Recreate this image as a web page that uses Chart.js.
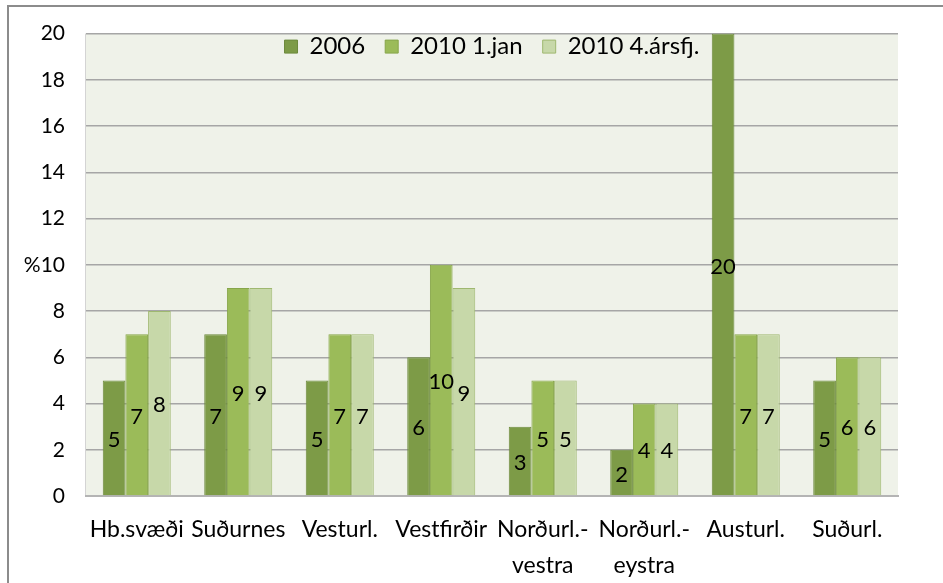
<!DOCTYPE html>
<html>
<head>
<meta charset="utf-8">
<script src="https://cdn.jsdelivr.net/npm/chart.js@4/dist/chart.umd.min.js"></script>
<style>
  html, body { margin: 0; padding: 0; background: #fff; }
  #wrap { position: relative; width: 943px; height: 583px; overflow: hidden; }
  #frame { position: absolute; left: 7px; top: 5px; width: 960px; height: 600px; border-left: 2px solid #8c8c8c; border-top: 2px solid #8c8c8c; pointer-events: none; }
</style>
</head>
<body>
<div id="wrap">
  <canvas id="chart" width="943" height="583"></canvas>
  <div id="frame"></div>
</div>
<script>
const regions = ['Hb.svæði', 'Suðurnes', 'Vesturl.', 'Vestfirðir', ['Norðurl.-', 'vestra'], ['Norðurl.-', 'eystra'], 'Austurl.', 'Suðurl.'];
const values2006 = [5, 7, 5, 6, 3, 2, 20, 5];
const values2010jan = [7, 9, 7, 10, 5, 4, 7, 6];
const values2010q4 = [8, 9, 7, 9, 5, 4, 7, 6];
const seriesNames = ['2006', '2010 1.jan', '2010 4.ársfj.'];

const font = 'Lato, "Open Sans", sans-serif';

// light green plot background
const plotBg = {
    id: 'plotBg',
    beforeDraw(chart){
        const a = chart.chartArea;
        const ctx = chart.ctx;
        ctx.save();
        ctx.fillStyle = '#eff2e9';
        ctx.fillRect(a.left, a.top, a.right - a.left, a.bottom - a.top);
        ctx.strokeStyle = '#d4d4d4';
        ctx.lineWidth = 1;
        ctx.beginPath();
        ctx.moveTo(a.left - 0.5, a.top);
        ctx.lineTo(a.left - 0.5, a.bottom);
        ctx.stroke();
        ctx.restore();
    }
};

// legend takes no room in the layout, then is moved inside the top of the plot
const legendInside = {
    id: 'legendInside',
    beforeLayout(chart){
        const lg = chart.legend;
        if(lg && !lg._inside){
            const fit = lg.fit;
            lg.fit = function(){ fit.call(this); this.height = 0; };
            lg._inside = true;
        }
    },
    afterLayout(chart){
        const lg = chart.legend;
        if(!lg) return;
        const a = chart.chartArea;
        lg.left = a.left;
        lg.right = a.right;
        lg.top = a.top - 19;
        lg.bottom = lg.top + 60;
        lg.height = 60;
    }
};

// value labels in the middle of each bar
const barValues = {
    id: 'barValues',
    afterDatasetsDraw(chart){
        const ctx = chart.ctx;
        ctx.save();
        ctx.font = '22px ' + font;
        ctx.fillStyle = '#000';
        ctx.textAlign = 'center';
        ctx.textBaseline = 'middle';
        chart.data.datasets.forEach((ds, i) => {
            chart.getDatasetMeta(i).data.forEach((bar, j) => {
                ctx.fillText(String(ds.data[j]), bar.x, (bar.y + bar.base) / 2 + 2);
            });
        });
        ctx.restore();
    }
};

new Chart(document.getElementById('chart'), {
    type: 'bar',
    data: {
        labels: regions,
        datasets: [
            { label: seriesNames[0], data: values2006, backgroundColor: '#7d9b47', borderColor: '#6c8a3c', borderWidth: 1 },
            { label: seriesNames[1], data: values2010jan, backgroundColor: '#9bbb59', borderColor: '#87a64a', borderWidth: 1 },
            { label: seriesNames[2], data: values2010q4, backgroundColor: '#c7d8a9', borderColor: '#9fb870', borderWidth: 1 }
        ]
    },
    options: {
        responsive: false,
        animation: false,
        layout: { padding: { top: 33, right: 45, left: 0, bottom: 0 } },
        datasets: { bar: { categoryPercentage: 0.67, barPercentage: 1.0 } },
        plugins: {
            legend: {
                position: 'top',
                align: 'center',
                labels: {
                    font: { family: font, size: 24 },
                    color: '#000',
                    boxWidth: 13,
                    boxHeight: 13,
                    padding: 20
                }
            },
            tooltip: { enabled: false }
        },
        scales: {
            x: {
                grid: { display: false, drawTicks: false },
                border: { color: '#b4b4b4', width: 2 },
                ticks: {
                    font: { family: font, size: 23, lineHeight: 1.55 },
                    color: '#000',
                    padding: 16,
                    maxRotation: 0,
                    autoSkip: false
                },
                afterFit(scale){ scale.height = 87; }
            },
            y: {
                min: 0,
                max: 20,
                grid: { color: '#a6a6a6', lineWidth: 1.5, drawTicks: false },
                border: { display: false },
                ticks: {
                    stepSize: 2,
                    font: { family: font, size: 21 },
                    color: '#000',
                    padding: 21,
                    callback: v => v === 10 ? '%10' : v
                },
                afterFit(scale){ scale.width = 86; }
            }
        }
    },
    plugins: [plotBg, legendInside, barValues]
});
</script>
</body>
</html>
